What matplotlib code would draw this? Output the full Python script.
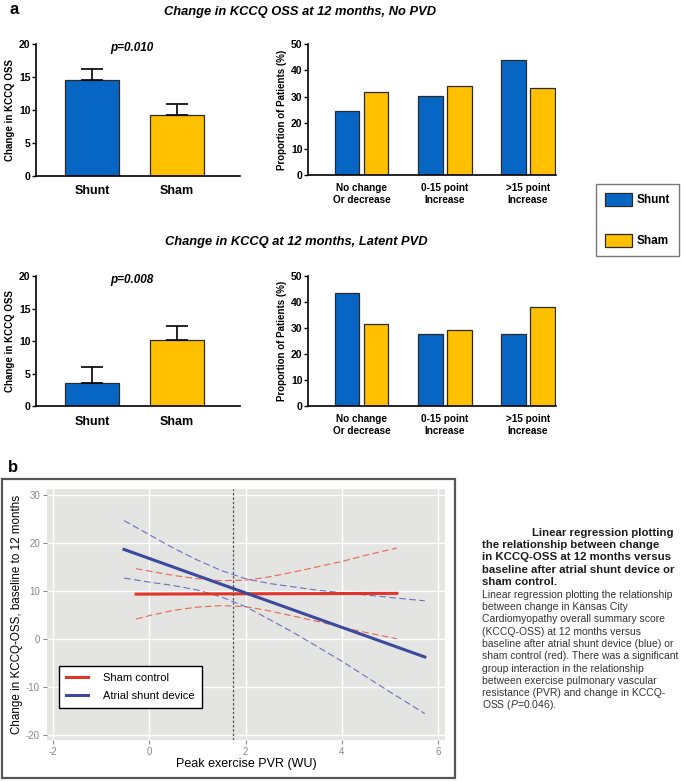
import matplotlib
matplotlib.use("Agg")
import matplotlib.pyplot as plt
from matplotlib.patches import Patch, Rectangle

plt.rcParams['font.family'] = ['Liberation Sans', 'DejaVu Sans']
plt.rcParams['mathtext.fontset'] = 'custom'
plt.rcParams['mathtext.it'] = 'Liberation Sans:italic'
plt.rcParams['mathtext.rm'] = 'Liberation Sans'
plt.rcParams['axes.unicode_minus'] = False

# ---- data (panel a) ----
groups = ['Shunt', 'Sham']
no_pvd_change = [14.5, 9.2]
no_pvd_sem = [1.7, 1.7]
latent_change = [3.55, 10.15]
latent_sem = [2.4, 2.2]

categories = ['No change\nOr decrease', '0-15 point\nIncrease', '>15 point\nIncrease']
no_pvd_shunt_pct = [24.6, 30.2, 44.0]
no_pvd_sham_pct = [31.6, 33.9, 33.2]
latent_shunt_pct = [43.6, 27.6, 27.6]
latent_sham_pct = [31.5, 29.4, 37.9]

# ---- data (panel b) ----
sham_fit_x = [-0.27, 5.14]
sham_fit_y = [9.4, 9.55]
shunt_fit_x = [-0.52, 5.72]
shunt_fit_y = [18.7, -3.7]

sham_ci_x = [-0.27, 0, 0.5, 1, 1.5, 2, 2.5, 3, 3.5, 4, 4.5, 5.14]
sham_ci_hi = [14.7, 14.2, 13.3, 12.6, 12.2, 12.3, 13.0, 14.0, 15.1, 16.2, 17.5, 19.0]
sham_ci_lo = [4.2, 4.9, 6.0, 6.7, 7.0, 6.8, 5.9, 4.8, 3.7, 2.5, 1.4, 0.1]

shunt_ci_x = [-0.52, 0, 0.5, 1, 1.5, 2, 2.5, 3, 3.5, 4, 4.5, 5, 5.72]
shunt_ci_hi = [24.7, 21.8, 19.0, 16.5, 14.3, 12.6, 11.6, 10.9, 10.2, 9.7, 9.2, 8.7, 8.0]
shunt_ci_lo = [12.75, 11.9, 11.2, 10.25, 8.8, 6.8, 4.1, 1.35, -1.6, -4.6, -7.8, -11.0, -15.5]

pvr_cut = 1.73

BLUE = '#0766c4'
YELLOW = '#ffc000'
EDGE = '#2a2a2a'

W, H = 683, 782
fig = plt.figure(figsize=(W / 100, H / 100), dpi=100)


def px_axes(l, t, r, b):
    return fig.add_axes([l / W, 1 - b / H, (r - l) / W, (b - t) / H])


def style_bar_axes(ax):
    for s in ['top', 'right']:
        ax.spines[s].set_visible(False)
    for s in ['left', 'bottom']:
        ax.spines[s].set_linewidth(1.2)
    ax.tick_params(axis='y', direction='out', length=3, width=1, labelsize=7.5, pad=1)
    ax.tick_params(axis='x', length=0, pad=7)
    for lab in ax.get_yticklabels():
        lab.set_fontweight('bold')


def mean_panel(ax, vals, sem, ptxt):
    xs = range(len(groups))
    ax.bar(xs, vals, width=0.635, color=[BLUE, YELLOW], edgecolor=EDGE, linewidth=0.9)
    ax.errorbar(xs, vals, yerr=[[0] * len(sem), sem], fmt='none', ecolor='black',
                elinewidth=1.2, capsize=8, capthick=1.2)
    ax.set_xlim(-0.66, 1.74)
    ax.set_ylim(0, 20)
    ax.set_yticks([0, 5, 10, 15, 20])
    ax.set_xticks(list(xs))
    ax.set_xticklabels(groups, fontsize=9, fontweight='bold')
    ax.set_ylabel('Change in KCCQ OSS', fontsize=7, fontweight='bold', labelpad=3)
    ax.text(0.47, 19.4, ptxt, ha='center', va='center', fontsize=8.5,
            fontweight='bold', style='italic')
    style_bar_axes(ax)


def pct_panel(ax, shunt, sham):
    xs = list(range(len(categories)))
    off, bw = 0.174, 0.295
    ax.bar([x - off for x in xs], shunt, width=bw, color=BLUE, edgecolor=EDGE, linewidth=0.9)
    ax.bar([x + off for x in xs], sham, width=bw, color=YELLOW, edgecolor=EDGE, linewidth=0.9)
    ax.set_xlim(-0.642, 2.336)
    ax.set_ylim(0, 50)
    ax.set_yticks([0, 10, 20, 30, 40, 50])
    ax.set_xticks(xs)
    ax.set_xticklabels(categories, fontsize=7.2, fontweight='bold', linespacing=1.15)
    ax.set_ylabel('Proportion of Patients (%)', fontsize=7, fontweight='bold', labelpad=3)
    style_bar_axes(ax)
    ax.tick_params(axis='x', pad=6)


ax1 = px_axes(36, 43.7, 240, 175.7)
mean_panel(ax1, no_pvd_change, no_pvd_sem, 'p=0.010')
ax2 = px_axes(308, 44.3, 556, 175)
pct_panel(ax2, no_pvd_shunt_pct, no_pvd_sham_pct)
ax3 = px_axes(36, 276, 240, 406)
mean_panel(ax3, latent_change, latent_sem, 'p=0.008')
ax4 = px_axes(308, 276, 556, 406)
pct_panel(ax4, latent_shunt_pct, latent_sham_pct)

fig.text(10 / W, 1 - 10 / H, 'a', fontsize=12, fontweight='bold', va='center')
fig.text(300 / W, 1 - 12 / H, 'Change in KCCQ OSS at 12 months, No PVD', fontsize=9.3,
         fontweight='bold', style='italic', ha='center', va='center')
fig.text(296 / W, 1 - 242 / H, 'Change in KCCQ at 12 months, Latent PVD', fontsize=9.3,
         fontweight='bold', style='italic', ha='center', va='center')

# legend for panel a
handles = [Patch(facecolor=BLUE, edgecolor=EDGE, linewidth=0.9, label='Shunt'),
           Patch(facecolor=YELLOW, edgecolor=EDGE, linewidth=0.9, label='Sham')]
leg = fig.legend(handles=handles, loc='upper left', bbox_to_anchor=(596 / W, 1 - 184 / H),
                 prop={'weight': 'bold', 'size': 8.5}, frameon=True, fancybox=False,
                 edgecolor='#555555', handlelength=2.3, handleheight=1.35,
                 labelspacing=2.3, handletextpad=0.4, borderpad=0.75, borderaxespad=0)
leg.get_frame().set_linewidth(1.0)

# ---- panel b ----
fig.text(8 / W, 1 - 467 / H, 'b', fontsize=12, fontweight='bold', va='center')
fig.patches.append(Rectangle((2 / W, 1 - 778 / H), 453 / W, 299 / H, transform=fig.transFigure,
                             fill=False, edgecolor='#555555', linewidth=1.6))

axb = px_axes(47, 489, 445, 740)
axb.set_facecolor('#e4e4e2')
for s in axb.spines.values():
    s.set_visible(False)
axb.set_xlim(-2.12, 6.14)
axb.set_ylim(-21.0, 31.3)
axb.set_xticks([-2, 0, 2, 4, 6])
axb.set_yticks([-20, -10, 0, 10, 20, 30])
axb.grid(True, color='white', linewidth=1.0)
axb.set_axisbelow(True)
axb.tick_params(colors='#888888', labelsize=7, length=3, width=0.8, pad=2)

axb.plot(sham_ci_x, sham_ci_hi, color='#e8684f', lw=0.8, ls=(0, (6, 3)))
axb.plot(sham_ci_x, sham_ci_lo, color='#e8684f', lw=0.8, ls=(0, (6, 3)))
axb.plot(shunt_ci_x, shunt_ci_hi, color='#6b70c4', lw=0.8, ls=(0, (6, 3)))
axb.plot(shunt_ci_x, shunt_ci_lo, color='#6b70c4', lw=0.8, ls=(0, (6, 3)))
axb.plot(sham_fit_x, sham_fit_y, color='#e2342a', lw=2.2, label='Sham control')
axb.plot(shunt_fit_x, shunt_fit_y, color='#3b4a9c', lw=2.2, label='Atrial shunt device')
axb.axvline(pvr_cut, color='#555555', lw=0.9, ls=(0, (2, 1.5)))

axb.set_xlabel('Peak exercise PVR (WU)', fontsize=9, labelpad=1)
axb.set_ylabel('Change in KCCQ-OSS, baseline to 12 months', fontsize=8.4, labelpad=2)

lb = axb.legend(loc='upper left', bbox_to_anchor=(59 / W, 1 - 666 / H),
                bbox_transform=fig.transFigure, fontsize=8, frameon=True, fancybox=False,
                edgecolor='black', framealpha=1, handlelength=2.0, handletextpad=1.3,
                labelspacing=0.7, borderpad=0.65, borderaxespad=0)
lb.get_frame().set_linewidth(1.0)

# caption
bold_lines = ['Linear regression plotting', 'the relationship between change',
              'in KCCQ-OSS at 12 months versus', 'baseline after atrial shunt device or',
              'sham control.']
reg_lines = ['Linear regression plotting the relationship', 'between change in Kansas City',
             'Cardiomyopathy overall summary score', '(KCCQ-OSS) at 12 months versus',
             'baseline after atrial shunt device (blue) or',
             'sham control (red). There was a significant',
             'group interaction in the relationship', 'between exercise pulmonary vascular',
             'resistance (PVR) and change in KCCQ-', r'OSS ($\mathit{P}$=0.046).']
for i, line in enumerate(bold_lines):
    x0 = 532 if i == 0 else 482
    fig.text(x0 / W, 1 - (533 + 12.2 * i) / H, line, fontsize=8.2, fontweight='bold',
             va='center', color='#1a1a1a')
for i, line in enumerate(reg_lines):
    fig.text(482 / W, 1 - (595 + 12.25 * i) / H, line, fontsize=7.5, va='center',
             color='#333333')

fig.savefig('out.png', dpi=100)
